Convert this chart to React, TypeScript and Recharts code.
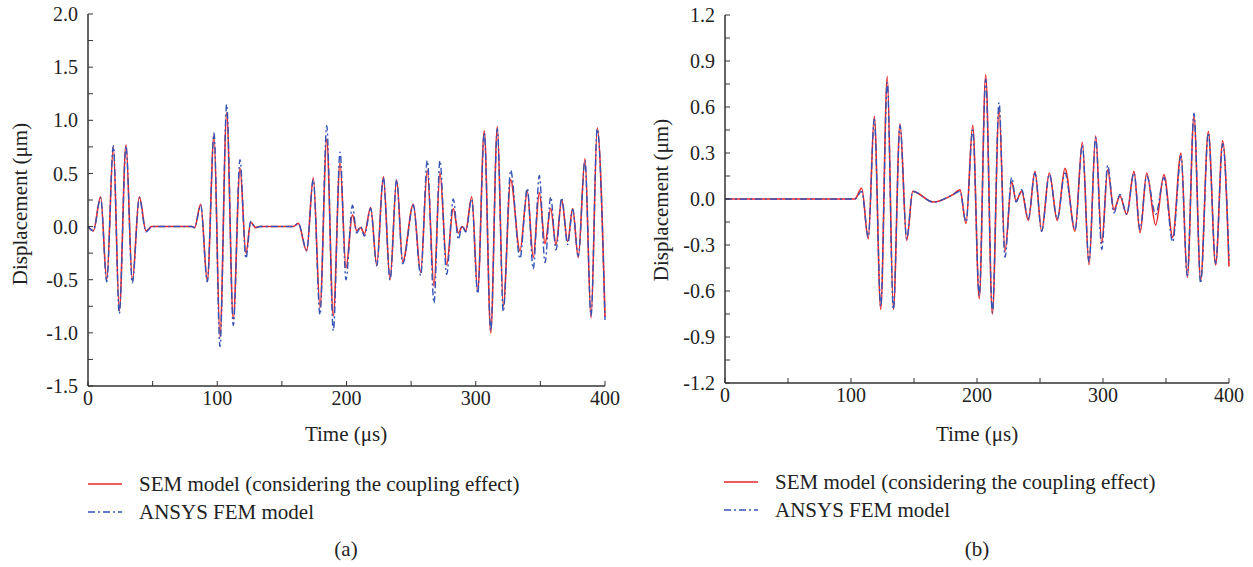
import React from "react";
import { LineChart, Line, XAxis, YAxis } from "recharts";

// Panel (a): time (µs), SEM and ANSYS displacement (µm), read at extrema
const timeA = [
  0, 4.1, 9.8, 14.5, 19.6, 24.2, 29.4, 34.3, 39.7, 44.9, 49.3, 80.2, 82.5, 87.2,
  92.3, 97.5, 102.1, 107.3, 112.4, 117.6, 122.2, 125.9, 129.7, 133, 158.8, 162.7,
  169.2, 174.3, 179.5, 184.7, 189.8, 195, 199.6, 204.6, 207.9, 211, 213.8, 218.7,
  223.4, 228.5, 233.7, 238.8, 243.5, 251.7, 257.4, 262.5, 267.7, 272.3, 277.5,
  282.6, 286.5, 289.6, 292.2, 296.9, 301.5, 306.6, 311.6, 316.7, 321.3, 327,
  334.2, 339.9, 344.5, 349.2, 353.6, 358, 362.1, 366.5, 371.1, 375, 379.3, 384.5,
  389.2, 394, 400,
];
const semA = [
  0, -0.04, 0.28, -0.5, 0.75, -0.79, 0.77, -0.51, 0.28, -0.04, 0, 0, -0.01, 0.21,
  -0.51, 0.86, -1.04, 1.07, -0.87, 0.55, -0.25, 0.04, -0.01, 0, 0, 0.03,
  -0.23, 0.46, -0.76, 0.82, -0.84, 0.6, -0.39, 0.11, -0.04, -0.01, -0.07, 0.18,
  -0.36, 0.47, -0.5, 0.44, -0.33, 0.21, -0.43, 0.53, -0.56, 0.51, -0.36,
  0.17, -0.06, 0, -0.04, 0.28, -0.61, 0.9, -1.0, 0.94, -0.75, 0.44,
  -0.23, 0.33, -0.29, 0.32, -0.16, 0.17, -0.17, 0.25, -0.14, 0.17, -0.29, 0.64,
  -0.86, 0.93, -0.85,
];
const femA = [
  0, -0.04, 0.27, -0.52, 0.76, -0.82, 0.76, -0.53, 0.27, -0.05, 0, 0, -0.01, 0.2,
  -0.52, 0.88, -1.13, 1.15, -0.93, 0.63, -0.3, 0.05, -0.01, 0, 0, 0.03,
  -0.22, 0.44, -0.83, 0.95, -0.98, 0.7, -0.5, 0.2, -0.06, 0, -0.09, 0.17,
  -0.37, 0.46, -0.5, 0.44, -0.35, 0.2, -0.46, 0.62, -0.72, 0.62, -0.45,
  0.26, -0.12, 0.01, -0.05, 0.26, -0.63, 0.88, -0.98, 0.92, -0.8, 0.53,
  -0.3, 0.36, -0.4, 0.48, -0.34, 0.28, -0.22, 0.27, -0.17, 0.16, -0.28, 0.62,
  -0.84, 0.92, -0.88,
];

// Panel (b)
const timeB = [
  0, 103, 108.5, 113.7, 118.5, 123.6, 128.8, 133.6, 138.9, 144.2, 149, 165.3,
  181.2, 186.5, 191.3, 196.6, 201.8, 206.9, 212.2, 217.5, 222.2, 227.5, 231,
  235.5, 240.7, 246, 251.3, 257.4, 263.7, 269.8, 277.8, 283.6, 288.9, 294.2, 299,
  303.7, 308.7, 313.5, 318.8, 324.6, 329.4, 334.7, 341.8, 348.4, 355.3, 361.9,
  366.9, 372.2, 377.5, 383.6, 389.4, 395, 400,
];
const semB = [
  0, 0, 0.07, -0.26, 0.54, -0.72, 0.8, -0.72, 0.49, -0.27, 0.05, -0.02,
  0.03, 0.06, -0.16, 0.48, -0.65, 0.81, -0.75, 0.59, -0.34, 0.11, -0.01,
  0.05, -0.14, 0.18, -0.21, 0.17, -0.14, 0.2, -0.21, 0.37, -0.43, 0.41, -0.29,
  0.19, -0.07, 0.02, -0.1, 0.18, -0.22, 0.17, -0.17, 0.16, -0.25, 0.3,
  -0.51, 0.54, -0.53, 0.44, -0.43, 0.38, -0.44,
];
const femB = [
  0, 0, 0.05, -0.25, 0.52, -0.7, 0.76, -0.72, 0.48, -0.26, 0.05, -0.02,
  0.03, 0.05, -0.15, 0.45, -0.63, 0.78, -0.74, 0.63, -0.38, 0.14, -0.02,
  0.06, -0.13, 0.17, -0.21, 0.16, -0.13, 0.17, -0.2, 0.35, -0.41, 0.4, -0.33,
  0.22, -0.09, 0.03, -0.1, 0.17, -0.2, 0.15, -0.1, 0.14, -0.28, 0.28,
  -0.5, 0.56, -0.55, 0.43, -0.42, 0.36, -0.4,
];

const xTicks = [0, 50, 100, 150, 200, 250, 300, 350, 400];
const yTicksA = [-1.5, -1.25, -1, -0.75, -0.5, -0.25, 0, 0.25, 0.5, 0.75, 1, 1.25, 1.5, 1.75, 2];
const yTicksB = [-1.2, -1.05, -0.9, -0.75, -0.6, -0.45, -0.3, -0.15, 0, 0.15, 0.3, 0.45, 0.6, 0.75, 0.9, 1.05, 1.2];

const RED = "#e8262c";
const BLUE = "#3553b5";
const AXIS = "#333";
const FONT = "'Liberation Serif', 'Times New Roman', serif";

const onStep = (v: number, step: number) => Math.abs(v / step - Math.round(v / step)) < 1e-6;

interface PanelProps {
  time: number[];
  sem: number[];
  fem: number[];
  yTicks: number[];
  yStep: number;
  left: number;
  width: number;
  top: number;
  bottom: number;
}

function Panel({ time, sem, fem, yTicks, yStep, left, width, top, bottom }: PanelProps) {
  const data = time.map((t, i) => ({ t, sem: sem[i], fem: fem[i] }));
  const domain: [number, number] = [yTicks[0], yTicks[yTicks.length - 1]];
  const tickStyle = { fontSize: 20, fill: "#222", fontFamily: FONT };
  const axisLine = { stroke: AXIS, strokeWidth: 1.5 };
  return (
    <div style={{ position: "absolute", left, top: 0 }}>
      <LineChart width={width} height={440} data={data} margin={{ top, right: 15, bottom, left: 28 }}>
        <XAxis
          xAxisId="b"
          dataKey="t"
          type="number"
          domain={[0, 400]}
          ticks={xTicks}
          interval={0}
          height={40}
          tickSize={-5}
          tickMargin={10}
          tick={tickStyle}
          tickFormatter={(v: number) => (onStep(v, 100) ? String(v) : "")}
          axisLine={axisLine}
          tickLine={{ stroke: AXIS }}
        />
        <XAxis
          xAxisId="t"
          orientation="top"
          dataKey="t"
          type="number"
          domain={[0, 400]}
          ticks={xTicks}
          interval={0}
          height={0}
          tickSize={-5}
          tickFormatter={() => ""}
          axisLine={axisLine}
          tickLine={{ stroke: AXIS }}
        />
        <YAxis
          yAxisId="l"
          type="number"
          domain={domain}
          ticks={yTicks}
          interval={0}
          width={60}
          tickSize={-5}
          tickMargin={15}
          tick={tickStyle}
          tickFormatter={(v: number) => (onStep(v, yStep) ? v.toFixed(1) : "")}
          axisLine={axisLine}
          tickLine={{ stroke: AXIS }}
        />
        <YAxis
          yAxisId="r"
          orientation="right"
          type="number"
          domain={domain}
          ticks={yTicks}
          interval={0}
          width={0}
          tickSize={-5}
          tickFormatter={() => ""}
          axisLine={axisLine}
          tickLine={{ stroke: AXIS }}
        />
        <Line
          xAxisId="b"
          yAxisId="l"
          type="monotone"
          dataKey="sem"
          stroke={RED}
          strokeWidth={1.6}
          dot={false}
          isAnimationActive={false}
        />
        <Line
          xAxisId="b"
          yAxisId="l"
          type="monotone"
          dataKey="fem"
          stroke={BLUE}
          strokeWidth={1.4}
          strokeDasharray="7 3 2 3"
          dot={false}
          isAnimationActive={false}
        />
      </LineChart>
    </div>
  );
}

const text: React.CSSProperties = {
  position: "absolute",
  fontFamily: FONT,
  fontSize: 21,
  color: "#222",
  whiteSpace: "nowrap",
  lineHeight: "24px",
};

function LegendRows({ x, y }: { x: number; y: number }) {
  return (
    <>
      <svg style={{ position: "absolute", left: x, top: y - 12 }} width={40} height={60}>
        <line x1={0} y1={12} x2={34} y2={12} stroke={RED} strokeWidth={1.6} />
        <line x1={0} y1={40} x2={34} y2={40} stroke={BLUE} strokeWidth={1.4} strokeDasharray="7 3 2 3" />
      </svg>
      <div style={{ ...text, left: x + 51, top: y - 12 }}>SEM model (considering the coupling effect)</div>
      <div style={{ ...text, left: x + 51, top: y + 16 }}>ANSYS FEM model</div>
    </>
  );
}

function Centered({ x, y, children, rotate }: { x: number; y: number; children: React.ReactNode; rotate?: boolean }) {
  return (
    <div
      style={{
        ...text,
        left: x,
        top: y,
        transform: `translate(-50%, -50%)${rotate ? " rotate(-90deg)" : ""}`,
      }}
    >
      {children}
    </div>
  );
}

export default function App() {
  return (
    <div style={{ position: "absolute", left: 0, top: 0, width: 1253, height: 567, background: "#fff" }}>
      <Panel time={timeA} sem={semA} fem={femA} yTicks={yTicksA} yStep={0.5} left={0} width={620} top={14} bottom={14} />
      <Panel time={timeB} sem={semB} fem={femB} yTicks={yTicksB} yStep={0.3} left={637} width={607} top={15} bottom={17} />

      <Centered x={20} y={204} rotate>Displacement (μm)</Centered>
      <Centered x={661} y={200} rotate>Displacement (μm)</Centered>
      <Centered x={346} y={434}>Time (μs)</Centered>
      <Centered x={977} y={434}>Time (μs)</Centered>

      <LegendRows x={88} y={484} />
      <LegendRows x={724} y={482} />

      <Centered x={346} y={549}>(a)</Centered>
      <Centered x={977} y={549}>(b)</Centered>
    </div>
  );
}
